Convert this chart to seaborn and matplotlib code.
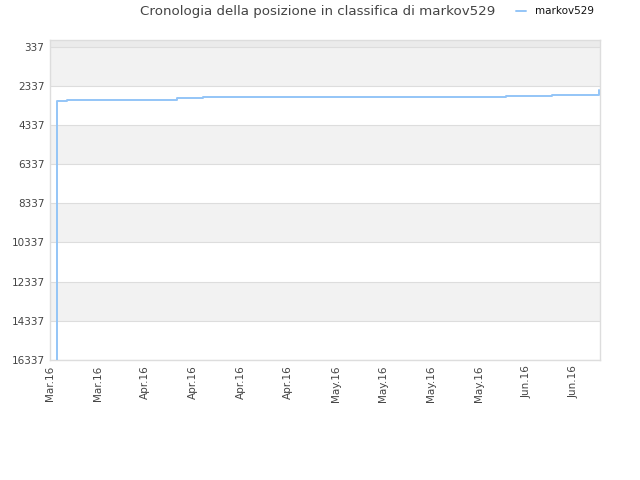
import matplotlib
matplotlib.use("Agg")
import matplotlib.pyplot as plt
import seaborn as sns
import pandas as pd

# giorni dall'inizio dell'asse e posizione in classifica
days = [1.40, 1.41, 1.53, 2.1, 3.5, 4.56, 26.7, 32.1, 95.8, 105.5, 115.2]
ranks = [16337, 3174, 3123, 3092, 3056, 3040, 2968, 2930, 2835, 2784, 2558]

tick_days = [0, 10, 20, 30, 40, 50, 60, 70, 80, 90, 100, 110]
tick_labels = ["Mar.16", "Mar.16", "Apr.16", "Apr.16", "Apr.16", "Apr.16",
               "May.16", "May.16", "May.16", "May.16", "Jun.16", "Jun.16"]
y_ticks = [337, 2337, 4337, 6337, 8337, 10337, 12337, 14337, 16337]

df = pd.DataFrame({"giorno": days, "posizione": ranks})

sns.set_style("white")
plt.rcParams["font.family"] = ["DejaVu Sans"]

fig = plt.figure(figsize=(6.4, 4.8), dpi=100)
ax = fig.add_axes([50 / 640, 1 - 360 / 480, 550 / 640, 320 / 480])

# fasce alternate
ax.axhspan(1, 337, color="#ebebeb", zorder=0, lw=0)
for i in range(0, len(y_ticks) - 1, 2):
    ax.axhspan(y_ticks[i], y_ticks[i + 1], color="#f2f2f2", zorder=0, lw=0)
for t in y_ticks:
    ax.axhline(t, color="#dddddd", lw=0.8, zorder=1)

sns.lineplot(data=df, x="giorno", y="posizione", ax=ax, color="#94c5f7",
             lw=1.4, drawstyle="steps-post", label="markov529", zorder=3)

ax.set_xlim(0, 115.5)
ax.set_ylim(16337, 1)
ax.set_yticks(y_ticks)
ax.set_yticklabels([str(t) for t in y_ticks])
ax.set_xticks(tick_days)
ax.set_xticklabels(tick_labels, rotation=90)
ax.tick_params(axis="both", length=0, labelsize=7.5, colors="#444444", pad=4)
ax.set_xlabel("")
ax.set_ylabel("")
for s in ax.spines.values():
    s.set_color("#dddddd")
    s.set_linewidth(1)

fig.text(0.497, 0.975, "Cronologia della posizione in classifica di markov529",
         ha="center", va="center", fontsize=9.6, color="#444444")
ax.legend(loc="center", bbox_to_anchor=(0.918, 1.09), frameon=False,
          fontsize=7.5, handlelength=1.0, handletextpad=0.8, labelcolor="#111111")

fig.savefig("out.png", dpi=100)
